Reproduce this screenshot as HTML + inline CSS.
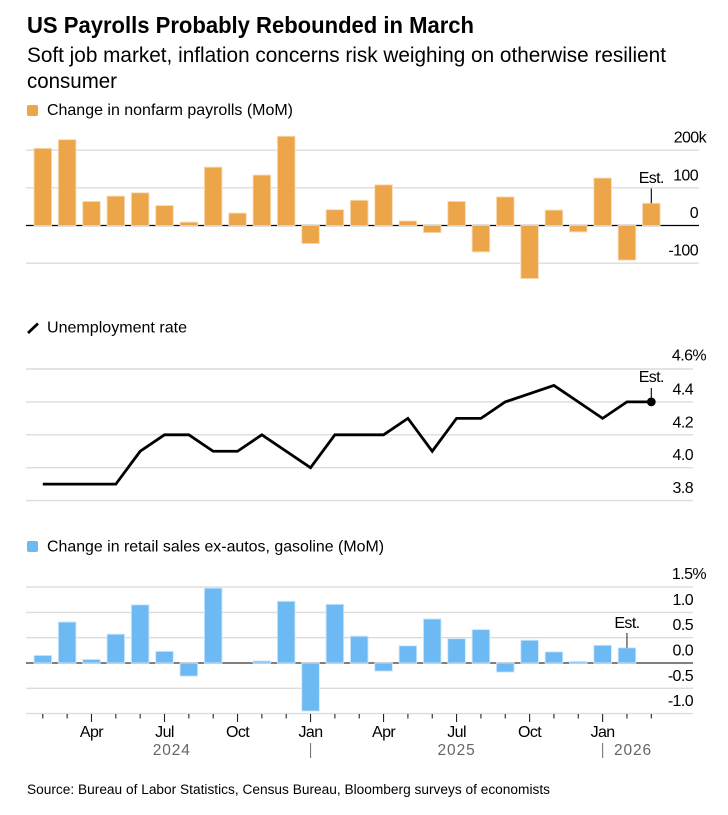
<!DOCTYPE html>
<html lang="en">
<head>
<meta charset="utf-8">
<title>US Payrolls Probably Rebounded in March</title>
<style>
html,body{margin:0;padding:0;background:#fff;width:728px;height:815px;overflow:hidden}
svg{display:block;font-family:"Liberation Sans",Arial,sans-serif;fill:#000}
.tick{font-size:16px;letter-spacing:-.6px}
.legend{font-size:16px}
.year{font-size:15.5px;fill:#666;letter-spacing:.9px;text-anchor:middle}
</style>
</head>
<body>
<svg id="chart" width="728" height="815" viewBox="0 0 728 815" xmlns="http://www.w3.org/2000/svg">
  <rect width="728" height="815" fill="#fff"/>
  <text x="27" y="33" font-size="23" font-weight="700" textLength="447" lengthAdjust="spacingAndGlyphs">US Payrolls Probably Rebounded in March</text>
  <text x="27" y="62" font-size="21" textLength="639" lengthAdjust="spacingAndGlyphs">Soft job market, inflation concerns risk weighing on otherwise resilient</text>
  <text x="27" y="88" font-size="21" textLength="90" lengthAdjust="spacingAndGlyphs">consumer</text>

  <rect x="27" y="105" width="11" height="11" rx="2" fill="#eca549"/>
  <text class="legend" x="47" y="115" textLength="246" lengthAdjust="spacingAndGlyphs">Change in nonfarm payrolls (MoM)</text>
  <line x1="28" y1="333" x2="38" y2="323.5" stroke="#000" stroke-width="2.8"/>
  <text class="legend" x="47" y="332.5" textLength="140" lengthAdjust="spacingAndGlyphs">Unemployment rate</text>
  <rect x="27" y="541" width="11" height="11" rx="2" fill="#6cb9f4"/>
  <text class="legend" x="47" y="551.5" textLength="337" lengthAdjust="spacingAndGlyphs">Change in retail sales ex-autos, gasoline (MoM)</text>

  <g id="payrolls-panel"></g>
  <g id="unemployment-panel"></g>
  <g id="retail-panel"></g>
  <g id="time-axis"></g>

  <text x="27" y="794" font-size="13.5" textLength="523" lengthAdjust="spacingAndGlyphs">Source: Bureau of Labor Statistics, Census Bureau, Bloomberg surveys of economists</text>
</svg>
<script>
// Data: monthly, Feb 2024 to Mar 2026
const payrollValues = [205, 228, 64, 78, 87, 53, 9, 155, 33, 134, 237, -48, 42, 67, 108, 12, -19, 64, -70, 76, -141, 41, -17, 126, -92, 59];
const unemploymentValues = [3.9, 3.9, 3.9, 3.9, 4.1, 4.2, 4.2, 4.1, 4.1, 4.2, 4.1, 4.0, 4.2, 4.2, 4.2, 4.3, 4.1, 4.3, 4.3, 4.4, 4.45, 4.5, 4.4, 4.3, 4.4, 4.4];
const retailValues = [0.15, 0.81, 0.07, 0.57, 1.15, 0.23, -0.26, 1.48, 0, 0.04, 1.22, -0.95, 1.16, 0.53, -0.16, 0.34, 0.87, 0.48, 0.66, -0.18, 0.45, 0.22, 0.03, 0.35, 0.30];
const payrollTicks = [200, 100, 0, -100];
const payrollTickLabels = ['200k', '100', '0', '-100'];
const unemploymentTicks = [4.6, 4.4, 4.2, 4.0, 3.8];
const unemploymentTickLabels = ['4.6%', '4.4', '4.2', '4.0', '3.8'];
const retailTicks = [1.5, 1.0, 0.5, 0, -0.5, -1.0];
const retailTickLabels = ['1.5%', '1.0', '0.5', '0.0', '-0.5', '-1.0'];
const monthLabels = ['Apr', 'Jul', 'Oct', 'Jan', 'Apr', 'Jul', 'Oct', 'Jan'];
const monthLabelIndexes = [2, 5, 8, 11, 14, 17, 20, 23];
const yearLabels = ['2024', '2025', '2026'];
const yearLabelIndexes = [5.3, 17, 24.25];
const yearBoundaryIndexes = [11, 23];

const NS = 'http://www.w3.org/2000/svg';
const xAt = i => 42.8 + i * 24.34;
const yPayroll = v => 225.5 - v * 0.3765;
const yUnemployment = v => 369 + (4.6 - v) * 164.5;
const yRetail = v => 663 - v * 50.6;

function make(tag, parent, props) {
  const el = document.createElementNS(NS, tag);
  for (const k in props) el.setAttribute(k, props[k]);
  parent.appendChild(el);
  return el;
}

function gridAndLabels(parent, ticks, labels, yFn, right, labelX, suffixX, prefix) {
  ticks.forEach((t, i) => {
    const isZero = t === 0 && prefix !== 'unemployment';
    const line = make('line', parent, {x1: 26, x2: right, y1: yFn(t), y2: yFn(t), stroke: isZero ? (prefix === 'retail' ? '#333' : '#000') : '#dcdcdc', 'stroke-width': isZero ? 1.3 : 1.4});
    
    
    const label = make('text', parent, {x: i === 0 ? suffixX : labelX, y: yFn(t) - 7.5 - (i === 0 && prefix !== 'payroll' ? 0.8 : 0), 'text-anchor': 'end', class: 'tick'});
    label.textContent = labels[i];
    
    
  });
}

function bars(parent, values, yFn, fill, edge, prefix) {
  values.forEach((v, i) => {
    if (v === 0) return;
    const y0 = yFn(0), y1 = yFn(v);
    const bar = make('rect', parent, {x: xAt(i) - 8.8, width: 17.6, y: Math.min(y0, y1), height: Math.abs(y1 - y0), fill: fill, stroke: edge, 'stroke-width': 0.9});
    
    
  });
}

function estimate(parent, x, textY, y1, y2, prefix, color) {
  const leader = make('line', parent, {x1: x, x2: x, y1: y1, y2: y2, stroke: color, 'stroke-width': 1.1});
  
  
  const label = make('text', parent, {x: x, y: textY, 'text-anchor': 'middle', class: 'tick'});
  label.textContent = 'Est.';
  
  
}

// Payrolls panel
const pPanel = document.getElementById('payrolls-panel');
gridAndLabels(pPanel, payrollTicks, payrollTickLabels, yPayroll, 699, 698, 706, 'payroll');
bars(pPanel, payrollValues, yPayroll, '#eca549', '#f8dcb6', 'payroll');
estimate(pPanel, xAt(25), 183, 188.5, yPayroll(payrollValues[25]), 'payroll', '#000');

// Unemployment panel
const uPanel = document.getElementById('unemployment-panel');
gridAndLabels(uPanel, unemploymentTicks, unemploymentTickLabels, yUnemployment, 693, 693, 706, 'unemployment');
const uLine = make('polyline', uPanel, {points: unemploymentValues.map((v, i) => xAt(i) + ',' + yUnemployment(v)).join(' '), fill: 'none', stroke: '#000', 'stroke-width': 2.8, 'stroke-linejoin': 'miter'});


const uLast = unemploymentValues.length - 1;
const uDot = make('circle', uPanel, {cx: xAt(uLast), cy: yUnemployment(unemploymentValues[uLast]), r: 4.4, fill: '#000'});


estimate(uPanel, xAt(uLast), 382, 388, yUnemployment(unemploymentValues[uLast]), 'unemployment', '#000');

// Retail panel
const rPanel = document.getElementById('retail-panel');
gridAndLabels(rPanel, retailTicks, retailTickLabels, yRetail, 693, 693, 706, 'retail');
bars(rPanel, retailValues, yRetail, '#6cb9f4', '#cfe7fb', 'retail');
estimate(rPanel, xAt(24), 628, 633, yRetail(retailValues[24]), 'retail', '#333');

// Time axis
const tAxis = document.getElementById('time-axis');
for (let i = 0; i < payrollValues.length; i++) {
  const major = monthLabelIndexes.includes(i);
  const tick = make('line', tAxis, {x1: xAt(i), x2: xAt(i), y1: 714, y2: major ? 722 : 718.5, stroke: '#222', 'stroke-width': 1.1});
  
  
}
monthLabels.forEach((m, i) => {
  const label = make('text', tAxis, {x: xAt(monthLabelIndexes[i]), y: 737, 'text-anchor': 'middle', class: 'tick'});
  label.textContent = m;
  
  
});
yearLabels.forEach((yr, i) => {
  const label = make('text', tAxis, {x: xAt(yearLabelIndexes[i]), y: 755, class: 'year'});
  label.textContent = yr;
  
  
});
yearBoundaryIndexes.forEach(i => {
  const sep = make('line', tAxis, {x1: xAt(i), x2: xAt(i), y1: 743, y2: 758, stroke: '#777', 'stroke-width': 1.1});
  
  
});
</script>
</body>
</html>
